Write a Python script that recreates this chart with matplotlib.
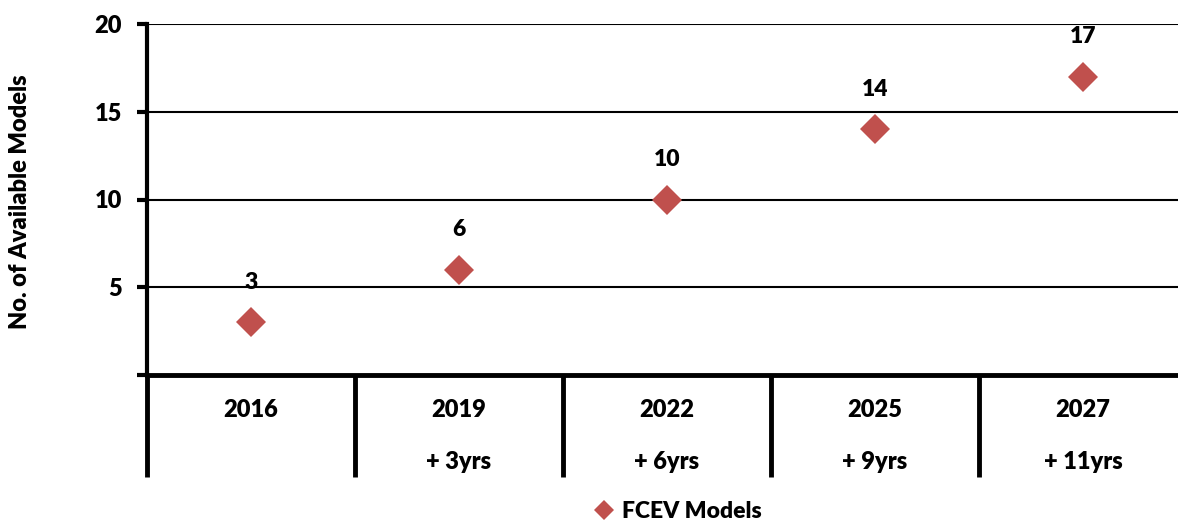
import matplotlib
matplotlib.use("Agg")
import matplotlib.pyplot as plt
import matplotlib.transforms as mtransforms

plt.rcParams['font.family'] = ['Lato', 'DejaVu Sans']
plt.rcParams['font.weight'] = 'heavy'

years = ["2016", "2019", "2022", "2025", "2027"]
offsets = ["", "+ 3yrs", "+ 6yrs", "+ 9yrs", "+ 11yrs"]
models = [3, 6, 10, 14, 17]
series_name = "FCEV Models"
color = "#C0504D"
W = 'heavy'

fig = plt.figure(figsize=(11.78, 5.22), dpi=100)
ax = fig.add_axes([147 / 1178, 1 - 375 / 522, 1040 / 1178, 351 / 522])

x = list(range(len(years)))
ax.plot(x, models, linestyle='none', marker='D', markersize=15, color=color,
        markeredgewidth=0, label=series_name, clip_on=False, zorder=3)
for xi, v in zip(x, models):
    ax.annotate(str(v), (xi, v), xytext=(0, 29), textcoords='offset points',
                ha='center', va='center', fontsize=16.5, fontweight=W)

ax.set_xlim(-0.5, len(years) - 0.5)
ax.set_ylim(0, 20)
ax.set_yticks([0, 5, 10, 15, 20])
ax.set_yticklabels(["", "5", "10", "15", "20"])
ax.set_xticks([])
ax.tick_params(axis='y', direction='out', length=7, width=3, pad=11, labelsize=17)
for lab in ax.get_yticklabels():
    lab.set_fontweight(W)

ax.grid(axis='y', color='black', linewidth=1.5)
ax.set_axisbelow(True)
for side in ['top', 'right']:
    ax.spines[side].set_visible(False)
ax.spines['left'].set_linewidth(3)
ax.spines['bottom'].set_linewidth(3.5)

# category separators and labels below the axis
trans = mtransforms.blended_transform_factory(ax.transData, ax.transAxes)
seps = [i - 0.5 for i in range(len(years) + 1)]
ax.vlines(seps, -102 / 351, 0, transform=trans, colors='black', linewidth=3.5, clip_on=False)
for xi, yr, off in zip(x, years, offsets):
    ax.text(xi, -35 / 351, yr, transform=trans, ha='center', va='center', fontsize=17, fontweight=W)
    ax.text(xi, -87 / 351, off, transform=trans, ha='center', va='center', fontsize=17, fontweight=W)

fig.text(20 / 1178, 1 - 202 / 522, "No. of Available Models", rotation=90,
         ha='center', va='center', fontsize=17, fontweight=W)

fig.legend(loc='center', bbox_to_anchor=(676 / 1178, 1 - 512 / 522), frameon=False,
           markerscale=0.65, handletextpad=0.2, handlelength=1.2,
           prop={'weight': W, 'size': 16.5})

fig.savefig("out.png", dpi=100)
